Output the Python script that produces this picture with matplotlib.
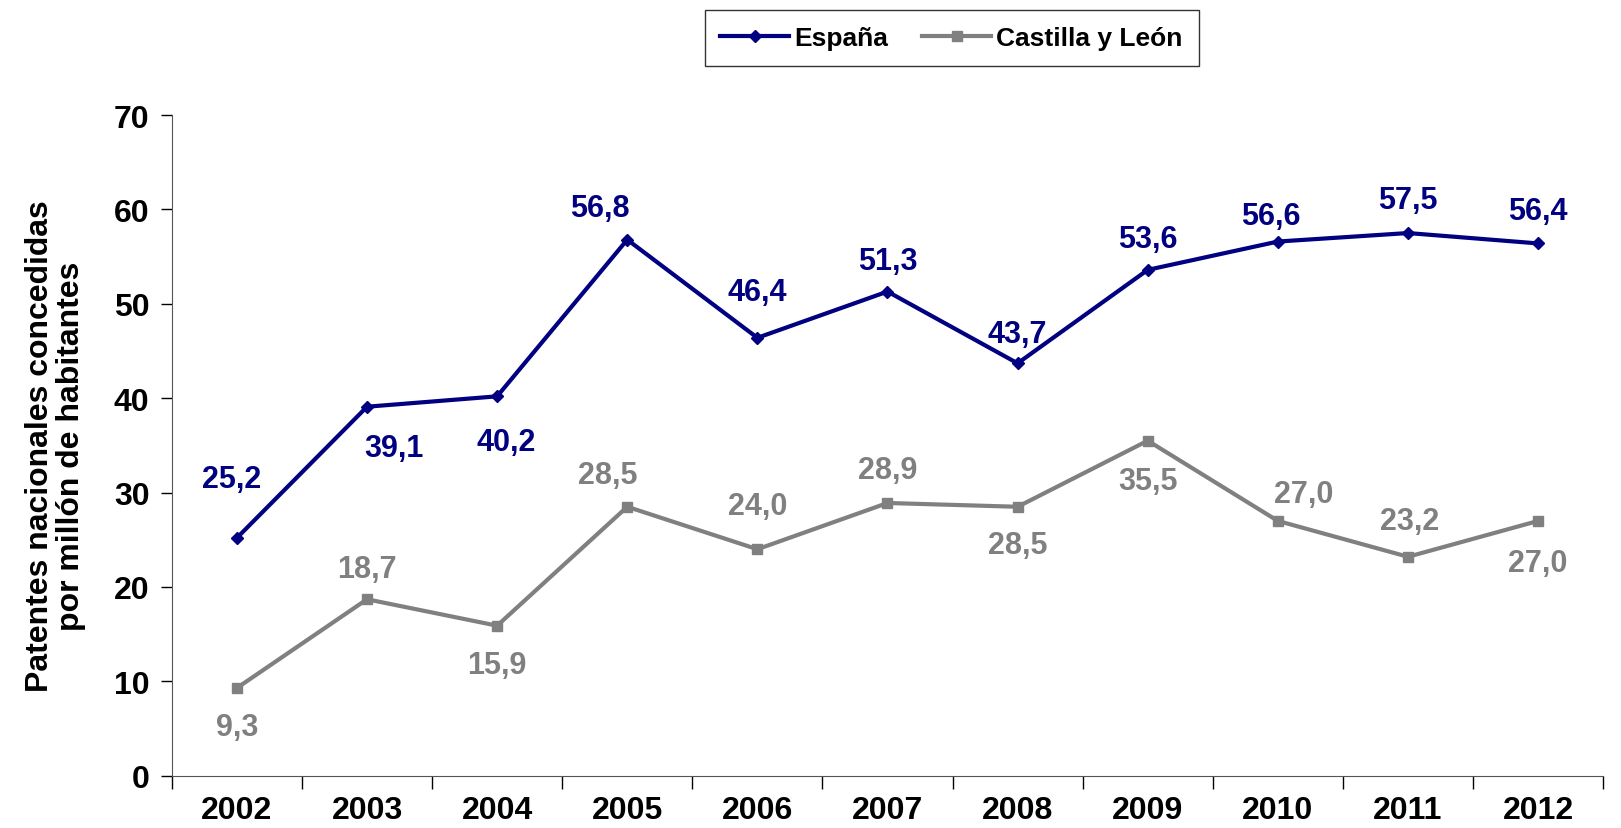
import matplotlib.pyplot as plt

plt.rcParams['font.family'] = ['Liberation Sans', 'DejaVu Sans']
plt.rcParams['font.weight'] = 'bold'

YEARS = ["2002", "2003", "2004", "2005", "2006", "2007", "2008", "2009", "2010", "2011", "2012"]
ESPANA = [25.2, 39.1, 40.2, 56.8, 46.4, 51.3, 43.7, 53.6, 56.6, 57.5, 56.4]
CYL = [9.3, 18.7, 15.9, 28.5, 24.0, 28.9, 28.5, 35.5, 27.0, 23.2, 27.0]

# label offsets from each point, in pixels (dx, dy up)
ESP_OFF = [(-5, 61), (27, -39), (9, -44), (-27, 34), (0, 48), (0, 33),
           (0, 31), (0, 33), (-7, 28), (0, 35), (0, 34)]
CYL_OFF = [(0, -37), (0, 32), (0, -37), (-20, 34), (0, 45), (0, 35),
           (0, -36), (0, -38), (26, 29), (2, 38), (0, -40)]

NAVY = "#000080"
GREY = "#808080"


def main():
    fig = plt.figure(figsize=(16.21, 8.29), dpi=100)
    ax = fig.add_axes([0.106, 0.063, 0.883, 0.797])
    x = list(range(len(YEARS)))
    l1, = ax.plot(x, ESPANA, color=NAVY, lw=3, marker="D", ms=6, label="España")
    l2, = ax.plot(x, CYL, color=GREY, lw=3, marker="s", ms=7, label="Castilla y León")

    px = 72 / 100  # pixels -> points
    for vals, offs, c in [(ESPANA, ESP_OFF, NAVY), (CYL, CYL_OFF, GREY)]:
        for xi, v, (dx, dy) in zip(x, vals, offs):
            ax.annotate(f"{v:.1f}".replace(".", ","), (xi, v),
                        xytext=(dx * px, (dy - 2) * px),
                        textcoords="offset points", ha="center", va="center",
                        fontsize=22, fontweight="bold", color=c)

    ax.set_xlim(-0.5, len(YEARS) - 0.5)
    ax.set_ylim(0, 70)
    ax.set_yticks(range(0, 71, 10))
    ax.tick_params(axis="y", labelsize=23, length=8, width=1, pad=8)
    ax.set_xticks([i - 0.5 for i in range(len(YEARS) + 1)], minor=False)
    ax.set_xticklabels([])
    ax.set_xticks(x, minor=True)
    ax.set_xticklabels(YEARS, minor=True)
    ax.tick_params(axis="x", which="major", length=9, width=1, direction="out")
    ax.tick_params(axis="x", which="minor", length=0, labelsize=23, pad=14)
    for s in ["top", "right"]:
        ax.spines[s].set_visible(False)
    for s in ["left", "bottom"]:
        ax.spines[s].set_color("#555555")
    ax.set_ylabel("Patentes nacionales concedidas\npor millón de habitantes",
                  fontsize=23, fontweight="bold", labelpad=20, linespacing=1.05)

    leg = fig.legend(handles=[l1, l2], loc="center", bbox_to_anchor=(0.587, 0.953),
                     ncol=2, fontsize=19, frameon=True, fancybox=False,
                     edgecolor="black", handlelength=2.6, columnspacing=1.3,
                     handletextpad=0.2, borderpad=0.6)
    leg.get_frame().set_linewidth(1)
    for t in leg.get_texts():
        t.set_fontweight("bold")

    fig.savefig("out.png", dpi=100)
    plt.close(fig)


if __name__ == "__main__":
    main()
